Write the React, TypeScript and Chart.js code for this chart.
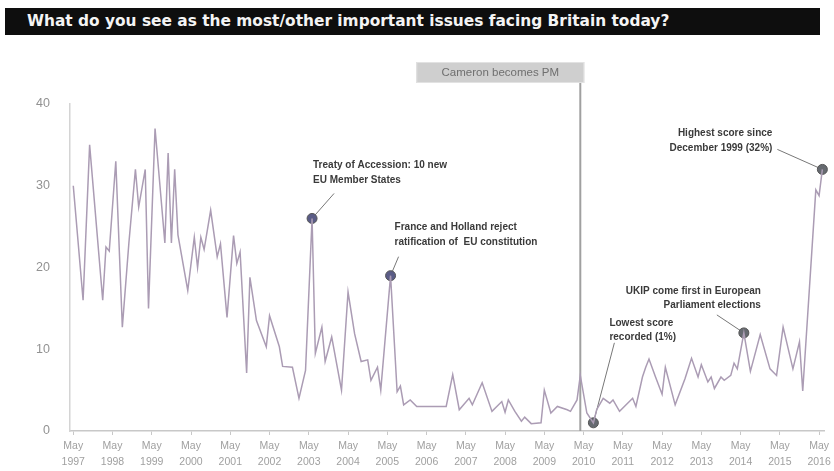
import { useEffect, useRef } from 'react';
import { Chart, registerables } from 'chart.js';

Chart.register(...registerables);

const chartTitle = 'What do you see as the most/other important issues facing Britain today?';

// months counted from May 1997
const months = [0,3,5,9,10,11,13,15,17,19,20,22,23,25,28,29,30,31,32,35,37,38,39,40,42,44,45,47,49,50,51,53,54,56,59,60,63,64,67,69,71,73,74,76,77,79,82,84,86,88,90,91,93,94,97,99,100,101,103,105,114,116,118,121,122,125,128,131,132,133,135,137,138,140,143,144,146,148,151,152,154,155,157,159,160,162,164,165,167,169,171,172,174,175,176,178,180,181,184,187,189,191,192,194,195,196,198,199,201,202,203,205,207,210,213,215,217,220,222,223,227,228,229];
const values = [30,16,35,16,22.5,22,33,12.7,23,32,27.4,32,15,37,23,34,23,32,24,17.2,23.7,20,23.7,22.2,27,21.3,22.9,13.9,23.9,20.5,21.9,7.1,18.8,13.5,10.3,14.1,10.3,7.9,7.8,4,7.4,26,9.5,12.7,8.5,11.5,5,17,11.9,8.5,8.7,6.2,7.8,5,19,4.8,5.5,3.2,3.8,3,3,6.9,2.6,4,3.2,5.9,2.4,3.6,2.3,3.8,2.4,1.2,1.7,0.9,1,5,2.2,3,2.6,2.4,3.8,6.8,2.2,1,2.6,4,3.4,3.8,2.4,3.2,4,3,6.6,7.8,8.8,6.6,4.5,7.8,3.2,6.4,8.9,6.6,8.1,6,6.6,5.2,6.6,6.2,6.8,8.3,7.6,12,7.3,11.8,7.6,6.8,12.7,7.6,10.9,4.9,29.5,28.8,32];

const tickMonths = [0,12,24,36,48,60,72,84,96,108,120,132,144,156,168,180,192,204,216,228];
const tickYears = ['1997','1998','1999','2000','2001','2002','2003','2004','2005','2006','2007','2008','2009','2010','2011','2012','2013','2014','2015','2016'];
const tickMonthName = 'May';

const yTicks = [0, 10, 20, 30, 40];

const markerMonths = [73, 97, 159, 205, 229];
const markerTexts = [
  ['Treaty of Accession: 10 new', 'EU Member States'],
  ['France and Holland reject', 'ratification of  EU constitution'],
  ['Lowest score', 'recorded (1%)'],
  ['UKIP come first in European', 'Parliament elections'],
  ['Highest score since', 'December 1999 (32%)'],
];

const eventMonth = 155;
const eventLabel = 'Cameron becomes PM';

// layout of annotation text relative to its marker (pixels)
const annotationLayout = [
  { dx: 1, dy: -53, align: 'left', lx: 22, ly: -25, color: '#5a5c86' },
  { dx: 4, dy: -48, align: 'left', lx: 8, ly: -19, color: '#5a5c86' },
  { dx: 16, dy: -100, align: 'left', lx: 21, ly: -80, color: '#666a70' },
  { dx: 17, dy: -42, align: 'right', lx: -27, ly: -18, color: '#666a70' },
  { dx: -50, dy: -36, align: 'right', lx: -45, ly: -20, color: '#666a70' },
];

const valueAt = (m: number) => values[months.indexOf(m)];

const overlay = {
  id: 'overlay',
  beforeDatasetsDraw(chart: any) {
    const ctx = chart.ctx;
    const xs = chart.scales.x;
    const ys = chart.scales.y;
    ctx.save();
    const ex = xs.getPixelForValue(eventMonth);
    ctx.strokeStyle = '#a0a0a0';
    ctx.lineWidth = 2;
    ctx.beginPath();
    ctx.moveTo(ex, ys.top - 21);
    ctx.lineTo(ex, ys.bottom);
    ctx.stroke();
    ctx.strokeStyle = '#777';
    ctx.lineWidth = 1;
    markerMonths.forEach((m, i) => {
      const px = xs.getPixelForValue(m);
      const py = ys.getPixelForValue(valueAt(m));
      const l = annotationLayout[i];
      ctx.beginPath();
      ctx.moveTo(px, py);
      ctx.lineTo(px + l.lx, py + l.ly);
      ctx.stroke();
    });
    ctx.restore();
  },
  afterDraw(chart: any) {
    const ctx = chart.ctx;
    const xs = chart.scales.x;
    const ys = chart.scales.y;
    ctx.save();
    const ex = xs.getPixelForValue(eventMonth);
    const bx = ex - 164;
    const by = ys.top - 42;
    ctx.fillStyle = '#cfcfcf';
    ctx.fillRect(bx, by, 168, 21);
    ctx.strokeStyle = '#e2e2e2';
    ctx.strokeRect(bx + 0.5, by + 0.5, 167, 20);
    ctx.fillStyle = '#6f6f6f';
    ctx.font = '11.5px "Liberation Sans", Arial, sans-serif';
    ctx.textAlign = 'center';
    ctx.textBaseline = 'middle';
    ctx.fillText(eventLabel, bx + 84, by + 11);

    ctx.font = 'bold 10px "Liberation Sans", Arial, sans-serif';
    ctx.fillStyle = '#3a3a3a';
    markerMonths.forEach((m, i) => {
      const px = xs.getPixelForValue(m);
      const py = ys.getPixelForValue(valueAt(m));
      const l = annotationLayout[i];
      ctx.textAlign = l.align;
      markerTexts[i].forEach((t, j) => {
        ctx.fillText(t, px + l.dx, py + l.dy + j * 14.5);
      });
    });
    ctx.restore();
  },
};

export default function App() {
  const ref = useRef<HTMLCanvasElement>(null);
  useEffect(() => {
    const chart = new Chart(ref.current as HTMLCanvasElement, {
      type: 'line',
      data: {
        datasets: [
          {
            data: months.map((m, i) => ({ x: m, y: values[i] })),
            borderColor: '#ab9cb4',
            borderWidth: 1.5,
            pointRadius: 0,
            tension: 0,
            clip: false,
          },
          {
            data: markerMonths.map((m) => ({ x: m, y: valueAt(m) })),
            showLine: false,
            pointRadius: 5,
            pointBackgroundColor: annotationLayout.map((l) => l.color),
            pointBorderColor: '#555',
            pointBorderWidth: 1,
            clip: false,
          },
        ],
      },
      options: {
        animation: false,
        responsive: false,
        events: [],
        layout: { padding: { left: 10, top: 104, right: 10, bottom: 0 } },
        plugins: { legend: { display: false }, tooltip: { enabled: false }, title: { display: false } },
        scales: {
          x: {
            type: 'linear',
            min: -1,
            max: 229.5,
            afterBuildTicks: (s: any) => {
              s.ticks = tickMonths.map((v) => ({ value: v }));
            },
            afterFit: (s: any) => {
              s.height = 40;
            },
            ticks: {
              autoSkip: false,
              maxRotation: 0,
              padding: 3,
              color: '#a0a0a0',
              font: { size: 10.5, family: '"Liberation Sans", Arial, sans-serif', lineHeight: 1.5 },
              callback: (v: any) => {
                const i = tickMonths.indexOf(Number(v));
                return i >= 0 ? [tickMonthName, tickYears[i]] : '';
              },
            },
            grid: { drawOnChartArea: false, drawTicks: true, tickLength: 4, color: '#c8c8c8' },
            border: { color: '#c8c8c8', width: 1.5 },
          },
          y: {
            min: 0,
            max: 40,
            afterBuildTicks: (s: any) => {
              s.ticks = yTicks.map((v) => ({ value: v }));
            },
            afterFit: (s: any) => {
              s.width = 60;
            },
            ticks: {
              padding: 12,
              color: '#929292',
              font: { size: 12.5, family: '"Liberation Sans", Arial, sans-serif' },
            },
            grid: { display: false },
            border: { color: '#d4d4d4', width: 1.5 },
          },
        },
      },
      plugins: [overlay],
    } as any);
    return () => chart.destroy();
  }, []);

  return (
    <div style={{ position: 'fixed', left: 0, top: 0, width: 834, height: 471, background: '#fff', overflow: 'hidden' }}>
      <div
        style={{
          position: 'absolute',
          left: 5,
          top: 8,
          width: 815,
          height: 27,
          background: '#0e0e0e',
          color: '#f4f4f4',
          fontFamily: '"DejaVu Sans", sans-serif',
          fontWeight: 'bold',
          fontSize: 15.4,
          lineHeight: '27px',
          paddingLeft: 22,
          boxSizing: 'border-box',
          whiteSpace: 'nowrap',
        }}
      >
        {chartTitle}
      </div>
      <canvas ref={ref} width={834} height={471} style={{ position: 'absolute', left: 0, top: 0 }} />
    </div>
  );
}
